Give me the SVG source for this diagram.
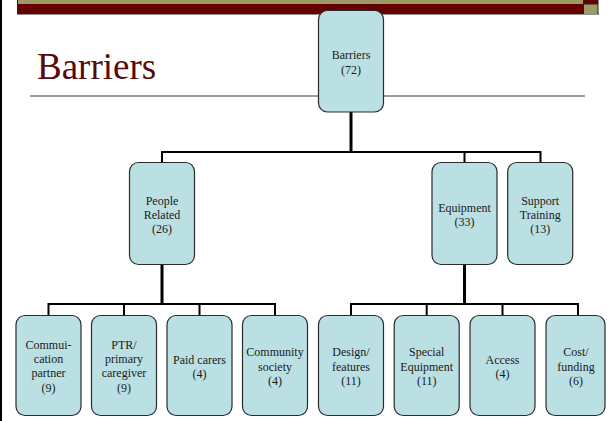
<svg xmlns="http://www.w3.org/2000/svg" width="607" height="421" viewBox="0 0 607 421">
<style>
.box{fill:#BBE0E3;stroke:#2b2b2b;stroke-width:1.2}
.t{font-family:"Liberation Serif","Times New Roman",serif;font-size:12px;fill:#1a1a1a;text-anchor:middle}
.c{stroke:#000;stroke-width:2;fill:none}
.s{stroke:#000;stroke-width:3;fill:none}
</style>
<rect width="607" height="421" fill="#fff"/>
<rect x="0" y="0" width="2" height="421" fill="#000"/>
<g id="banner">
<rect x="17" y="0" width="566" height="4" fill="#9E9A68"/>
<rect x="17" y="4" width="566" height="10" fill="#660000"/>
<line x1="17.5" y1="0" x2="17.5" y2="14" stroke="#222" stroke-width="1"/>
<line x1="17" y1="14" x2="599" y2="14" stroke="#222" stroke-width="1"/>
<rect x="583" y="0" width="15" height="4" fill="#660000"/>
<rect x="583" y="4" width="15" height="10" fill="#9E9A68"/>
<path d="M583.5 0V14M598 0V14M583 4H598" stroke="#222" stroke-width="1" fill="none"/>
</g>
<text x="37" y="79" font-family="Liberation Serif,Times New Roman,serif" font-size="37" fill="#560B0B">Barriers</text>
<line x1="30" y1="96" x2="585" y2="96" stroke="#7a7a7a" stroke-width="1.5"/>
<g id="connectors">
<path class="s" d="M351 112V152"/>
<path class="c" d="M162 163V152H540.5V163M464.5 152V163"/>
<path class="s" d="M162 264V305"/>
<path class="c" d="M48.5 316V304H275V316M124 304V316M199.5 304V316"/>
<path class="s" d="M464.5 264V305"/>
<path class="c" d="M351 316V304H578V316M426.7 304V316M502.5 304V316"/>
</g>
<g id="n-barriers"><rect class="box" x="318.5" y="10.5" width="65" height="101.5" rx="9"/><text class="t" x="351" y="59">Barriers</text><text class="t" x="351" y="73.5">(72)</text></g>
<g id="n-people"><rect class="box" x="129.5" y="162.5" width="65" height="102" rx="9"/><text class="t" x="162" y="204.5">People</text><text class="t" x="162" y="218.8">Related</text><text class="t" x="162" y="233">(26)</text></g>
<g id="n-equipment"><rect class="box" x="432" y="162.5" width="65" height="102" rx="9"/><text class="t" x="464.5" y="212">Equipment</text><text class="t" x="464.5" y="225.5">(33)</text></g>
<g id="n-support"><rect class="box" x="507.7" y="162.5" width="65" height="102" rx="9"/><text class="t" x="540.2" y="205">Support</text><text class="t" x="540.2" y="219">Training</text><text class="t" x="540.2" y="233">(13)</text></g>
<g id="n-commui"><rect class="box" x="16" y="315.5" width="65" height="100" rx="9"/><text class="t" x="48.5" y="348.5">Commui-</text><text class="t" x="48.5" y="362.9">cation</text><text class="t" x="48.5" y="377.3">partner</text><text class="t" x="48.5" y="391.7">(9)</text></g>
<g id="n-ptr"><rect class="box" x="91.5" y="315.5" width="65" height="100" rx="9"/><text class="t" x="124" y="348.5">PTR/</text><text class="t" x="124" y="362.9">primary</text><text class="t" x="124" y="377.3">caregiver</text><text class="t" x="124" y="391.7">(9)</text></g>
<g id="n-paid"><rect class="box" x="167" y="315.5" width="65" height="100" rx="9"/><text class="t" x="199.5" y="363.5">Paid carers</text><text class="t" x="199.5" y="378">(4)</text></g>
<g id="n-community"><rect class="box" x="242.5" y="315.5" width="65" height="100" rx="9"/><text class="t" x="275" y="356">Community</text><text class="t" x="275" y="370.5">society</text><text class="t" x="275" y="385">(4)</text></g>
<g id="n-design"><rect class="box" x="318.5" y="315.5" width="65" height="100" rx="9"/><text class="t" x="351" y="356">Design/</text><text class="t" x="351" y="370.5">features</text><text class="t" x="351" y="385">(11)</text></g>
<g id="n-special"><rect class="box" x="394.2" y="315.5" width="65" height="100" rx="9"/><text class="t" x="426.7" y="356">Special</text><text class="t" x="426.7" y="370.5">Equipment</text><text class="t" x="426.7" y="385">(11)</text></g>
<g id="n-access"><rect class="box" x="470" y="315.5" width="65" height="100" rx="9"/><text class="t" x="502.5" y="363.5">Access</text><text class="t" x="502.5" y="378">(4)</text></g>
<g id="n-cost"><rect class="box" x="546" y="315.5" width="59" height="100" rx="9"/><text class="t" x="576" y="356">Cost/</text><text class="t" x="576" y="370.5">funding</text><text class="t" x="576" y="385">(6)</text></g>
</svg>
